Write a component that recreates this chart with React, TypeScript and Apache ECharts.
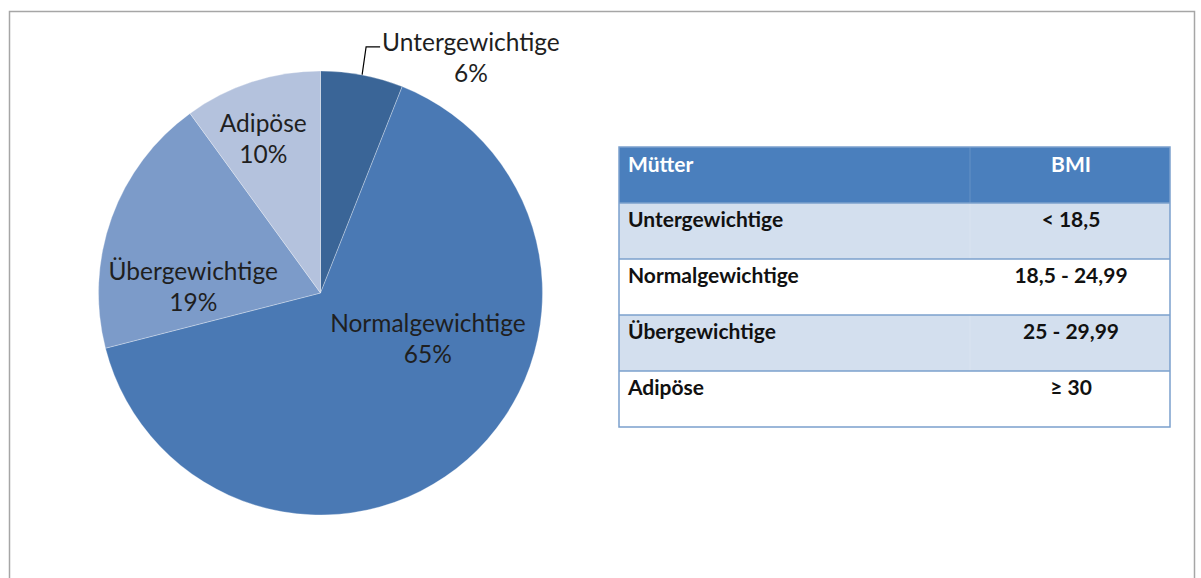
import React, { useEffect, useRef } from "react";
import * as echarts from "echarts";

const groups = ["Untergewichtige", "Normalgewichtige", "Übergewichtige", "Adipöse"];
const shares = [6, 65, 19, 10];
const sliceColors = ["#3A6597", "#4A79B4", "#7C9BC9", "#B4C2DD"];
const tableHeader = ["Mütter", "BMI"];
const bmiRanges = ["< 18,5", "18,5 - 24,99", "25 - 29,99", "≥ 30"];

// label tweaks (style only): offsets of inside labels from default position
const labelOffsets: Record<string, [number, number]> = {
  Normalgewichtige: [32, -41],
  Übergewichtige: [-20, 32],
  Adipöse: [-22, -47],
};

const FONT = "Lato, 'Noto Sans', sans-serif";

export default function App() {
  const ref = useRef<HTMLDivElement>(null);
  useEffect(() => {
    if (!ref.current) return;
    const chart = echarts.init(ref.current, undefined, { renderer: "svg" });

    const tLeft = 619;
    const tTop = 147;
    const tWidth = 551;
    const rowH = 56;
    const colSplit = 970;
    const tableEls: any[] = [];
    const nRows = bmiRanges.length + 1;
    for (let i = 0; i < nRows; i++) {
      tableEls.push({
        type: "rect",
        shape: { x: tLeft, y: tTop + i * rowH, width: tWidth, height: rowH },
        style: { fill: i === 0 ? "#4A7FBD" : i % 2 === 1 ? "#D3DFEE" : "#FFFFFF" },
        z: 1,
      });
    }
    for (let i = 1; i < nRows; i++) {
      tableEls.push({
        type: "line",
        shape: { x1: tLeft, y1: tTop + i * rowH, x2: tLeft + tWidth, y2: tTop + i * rowH },
        style: { stroke: "#7BA0CD", lineWidth: 1.5 },
        z: 3,
      });
    }
    tableEls.push({
      type: "line",
      shape: { x1: colSplit, y1: tTop, x2: colSplit, y2: tTop + rowH * 4 },
      style: { stroke: "rgba(255,255,255,0.15)", lineWidth: 1 },
      z: 2,
    });
    tableEls.push({
      type: "rect",
      shape: { x: tLeft, y: tTop, width: tWidth, height: rowH * nRows },
      style: { fill: "none", stroke: "#7BA0CD", lineWidth: 1.5 },
      z: 4,
    });
    const cellFont = { fontFamily: FONT, fontWeight: "bold", fontSize: 21 };
    tableEls.push({
      type: "text",
      x: 628,
      y: tTop + 16,
      style: { text: tableHeader[0], fill: "#FFFFFF", verticalAlign: "middle", align: "left", ...cellFont },
      z: 5,
    });
    tableEls.push({
      type: "text",
      x: 1071,
      y: tTop + 16,
      style: { text: tableHeader[1], fill: "#FFFFFF", verticalAlign: "middle", align: "center", ...cellFont },
      z: 5,
    });
    groups.forEach((g, i) => {
      const y = tTop + (i + 1) * rowH + 15;
      tableEls.push({
        type: "text",
        x: 628,
        y,
        style: { text: g, fill: "#111111", verticalAlign: "middle", align: "left", ...cellFont },
        z: 5,
      });
      tableEls.push({
        type: "text",
        x: 1071,
        y,
        style: { text: bmiRanges[i], fill: "#111111", verticalAlign: "middle", align: "center", ...cellFont },
        z: 5,
      });
    });

    const data = groups.map((g, i) => {
      const outside = i === 0;
      return {
        name: g,
        value: shares[i],
        itemStyle: { color: sliceColors[i] },
        label: { position: outside ? "outside" : "inside" },
        labelLine: { show: outside, length: 20, length2: 14 },
      };
    });

    chart.setOption({
      animation: false,
      backgroundColor: "#FFFFFF",
      graphic: [
        {
          type: "rect",
          shape: { x: 9.5, y: 11.5, width: 1185, height: 700 },
          style: { fill: "none", stroke: "#A6A6A6", lineWidth: 1.5 },
          z: 0,
        },
        ...tableEls,
      ],
      series: [
        {
          type: "pie",
          center: [320.5, 293],
          radius: 222,
          startAngle: 90,
          clockwise: true,
          avoidLabelOverlap: false,
          itemStyle: { borderColor: "rgba(255,255,255,0.5)", borderWidth: 0.6 },
          label: {
            formatter: "{b}\n{c}%",
            fontFamily: FONT,
            fontSize: 24.5,
            lineHeight: 31,
            color: "#1F1F1F",
            align: "center",
          },
          labelLine: { lineStyle: { color: "#000000", width: 1.2 }, smooth: false },
          emphasis: { disabled: true },
          labelLayout: (params: any) => {
            const name = groups[params.dataIndex];
            const r = params.labelRect;
            if (params.dataIndex === 0 && params.labelLinePoints) {
              const p0 = params.labelLinePoints[0];
              const p1 = [p0[0] + 4, p0[1] - 28];
              const p2 = [p1[0] + 14, p1[1]];
              return {
                x: p2[0] + 2 + r.width / 2,
                y: p2[1] + 10,
                align: "center",
                verticalAlign: "middle",
                labelLinePoints: [p0, p1, p2],
              };
            }
            const off = labelOffsets[name] || [0, 0];
            return {
              x: r.x + r.width / 2 + off[0],
              y: r.y + r.height / 2 + off[1],
              align: "center",
              verticalAlign: "middle",
            };
          },
          data,
        },
      ],
    });
    return () => chart.dispose();
  }, []);

  return (
    <div
      ref={ref}
      style={{ position: "absolute", left: 0, top: 0, width: 1201, height: 578, background: "#fff" }}
    />
  );
}
